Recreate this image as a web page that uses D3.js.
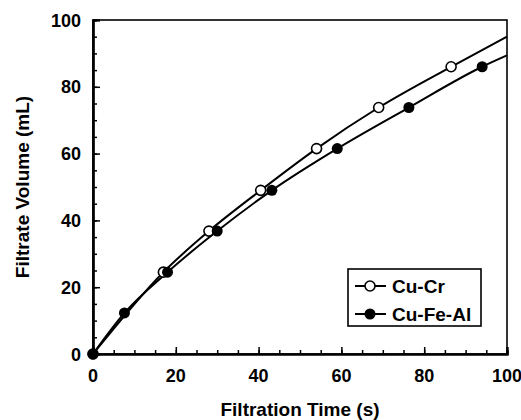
<!DOCTYPE html>
<html>
<head>
<meta charset="utf-8">
<script src="https://cdn.jsdelivr.net/npm/d3@7"></script>
<style>
  body { margin: 0; background: #fff; }
  text { font-family: "Liberation Sans", Arial, sans-serif; font-weight: bold; fill: #000; }
</style>
</head>
<body>
<div id="chart"></div>
<script>
// Data
var seriesNames = ['Cu-Cr', 'Cu-Fe-Al'];
var crTime = [0, 17, 28, 40.5, 54, 69, 86.5];
var crVolume = [0, 24.5, 36.8, 49, 61.5, 73.8, 86];
var feTime = [0, 7.6, 18, 30, 43.2, 59, 76.3, 94];
var feVolume = [0, 12.3, 24.5, 36.8, 49, 61.5, 73.8, 86];
// fitted curves end at the right frame
var crFitEnd = [100, 95];
var feFitEnd = [100, 89.4];
var xTicks = [0, 20, 40, 60, 80, 100];
var yTicks = [0, 20, 40, 60, 80, 100];

function renderChart() {
  var width = 521, height = 420;
  var left = 93, right = 507, top = 20, bottom = 354;

  var xScale = d3.scaleLinear().domain([0, 100]).range([left, right]);
  var yScale = d3.scaleLinear().domain([0, 100]).range([bottom, top]);

  var svg = d3.select('#chart').append('svg')
              .attr('width', width)
              .attr('height', height);

  // Frame
  svg.append('rect')
     .attr('x', left).attr('y', top)
     .attr('width', right - left).attr('height', bottom - top)
     .attr('fill', 'none').attr('stroke', '#000').attr('stroke-width', 1.6);

  // Minor ticks (inward)
  var minor = d3.range(0, 101, 5);
  var xAxisMinor = d3.axisTop(xScale).tickValues(minor).tickSize(4).tickFormat('');
  var yAxisMinor = d3.axisRight(yScale).tickValues(minor).tickSize(4).tickFormat('');
  svg.append('g').attr('transform', 'translate(0,' + bottom + ')').call(xAxisMinor);
  svg.append('g').attr('transform', 'translate(' + left + ',0)').call(yAxisMinor);

  // Major ticks (inward)
  var xAxisMajor = d3.axisTop(xScale).tickValues(xTicks).tickSize(7).tickFormat('');
  var yAxisMajor = d3.axisRight(yScale).tickValues(yTicks).tickSize(7).tickFormat('');
  svg.append('g').attr('transform', 'translate(0,' + bottom + ')').call(xAxisMajor);
  svg.append('g').attr('transform', 'translate(' + left + ',0)').call(yAxisMajor);

  svg.selectAll('.domain').attr('stroke-width', 2.2);
  svg.selectAll('.tick line').attr('stroke', '#000').attr('stroke-width', 1.5);

  // Tick labels
  svg.append('g').selectAll('text')
     .data(xTicks).enter().append('text')
     .attr('x', function(d) { return xScale(d); })
     .attr('y', bottom + 28)
     .attr('text-anchor', 'middle')
     .style('font-size', '18px')
     .text(function(d) { return d; });
  svg.append('g').selectAll('text')
     .data(yTicks).enter().append('text')
     .attr('x', left - 12)
     .attr('y', function(d) { return yScale(d) + 6.5; })
     .attr('text-anchor', 'end')
     .style('font-size', '18px')
     .text(function(d) { return d; });

  // Axis titles
  svg.append('text')
     .attr('x', (left + right) / 2).attr('y', 416)
     .attr('text-anchor', 'middle')
     .style('font-size', '19px')
     .text('Filtration Time (s)');
  svg.append('text')
     .attr('transform', 'translate(29,' + ((top + bottom) / 2) + ') rotate(-90)')
     .attr('text-anchor', 'middle')
     .style('font-size', '19px')
     .text('Filtrate Volume (mL)');

  var cr = crTime.map(function(t, i) { return [t, crVolume[i]]; });
  var fe = feTime.map(function(t, i) { return [t, feVolume[i]]; });

  var line = d3.line()
               .x(function(d) { return xScale(d[0]); })
               .y(function(d) { return yScale(d[1]); })
               .curve(d3.curveMonotoneX);

  svg.append('path').datum(cr.concat([crFitEnd]))
     .attr('d', line).attr('fill', 'none').attr('stroke', '#000').attr('stroke-width', 2);
  svg.append('path').datum(fe.concat([feFitEnd]))
     .attr('d', line).attr('fill', 'none').attr('stroke', '#000').attr('stroke-width', 2);

  // Markers
  svg.append('g').selectAll('circle')
     .data(cr).enter().append('circle')
     .attr('cx', function(d) { return xScale(d[0]); })
     .attr('cy', function(d) { return yScale(d[1]); })
     .attr('r', 5)
     .attr('fill', '#fff').attr('stroke', '#000').attr('stroke-width', 1.6);
  svg.append('g').selectAll('circle')
     .data(fe).enter().append('circle')
     .attr('cx', function(d) { return xScale(d[0]); })
     .attr('cy', function(d) { return yScale(d[1]); })
     .attr('r', 5.5)
     .attr('fill', '#000');

  // Legend
  var legend = svg.append('g').attr('transform', 'translate(348,269)');
  legend.append('rect')
        .attr('width', 133).attr('height', 57)
        .attr('fill', '#fff').attr('stroke', '#000').attr('stroke-width', 1.6);
  seriesNames.forEach(function(name, i) {
    var y = 17 + i * 28;
    legend.append('line')
          .attr('x1', 7).attr('x2', 38).attr('y1', y).attr('y2', y)
          .attr('stroke', '#000').attr('stroke-width', 2);
    legend.append('circle')
          .attr('cx', 22).attr('cy', y).attr('r', i === 0 ? 5 : 5.5)
          .attr('fill', i === 0 ? '#fff' : '#000')
          .attr('stroke', '#000').attr('stroke-width', i === 0 ? 1.6 : 0);
    legend.append('text')
          .attr('x', 44).attr('y', y + 7)
          .style('font-size', '19px')
          .text(name);
  });
}

renderChart();
</script>
</body>
</html>
